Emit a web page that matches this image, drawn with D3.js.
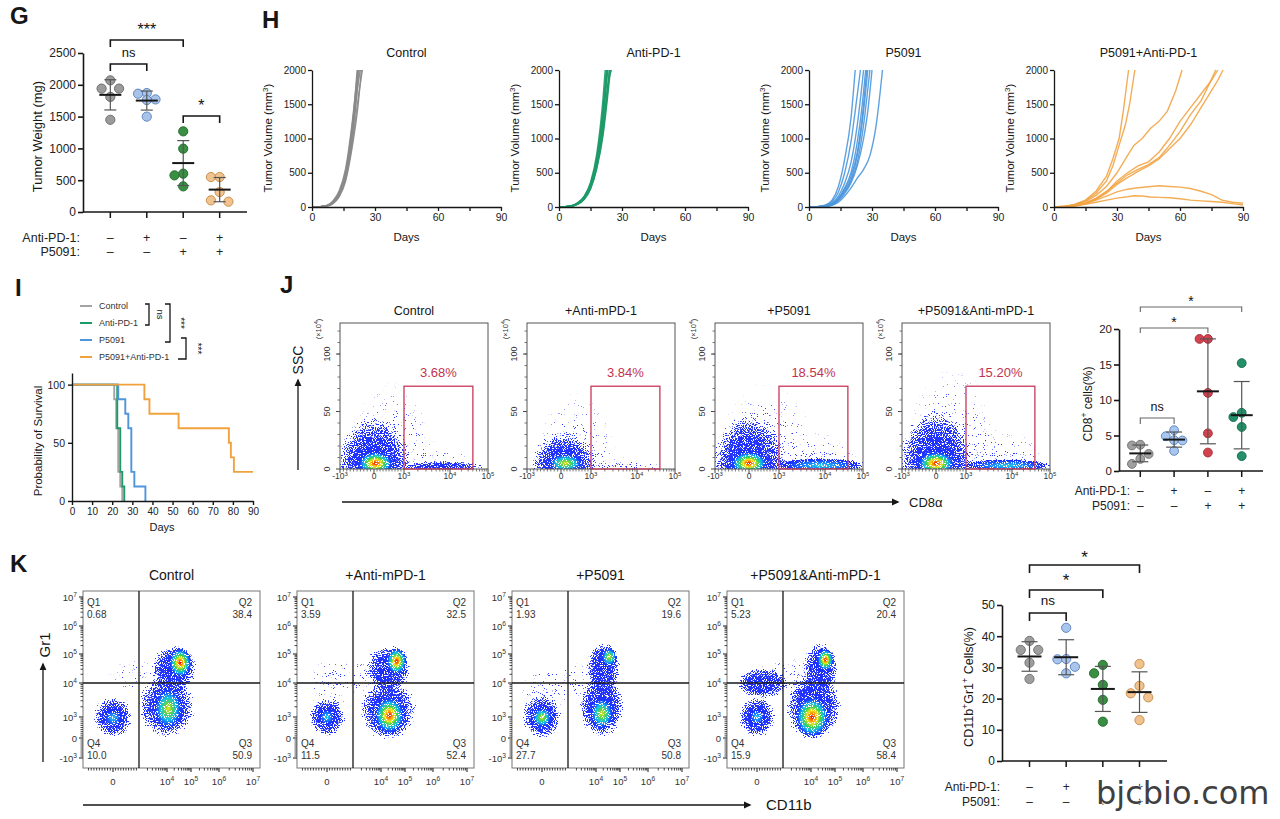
<!DOCTYPE html>
<html><head><meta charset="utf-8">
<script src="https://cdn.jsdelivr.net/npm/d3@7/dist/d3.min.js"></script>
<style>
html,body{margin:0;padding:0;background:#fff;}
svg{display:block;}
svg text{font-family:"Liberation Sans",Arial,Helvetica,sans-serif;}
</style></head><body>
<svg id="fig" width="1280" height="819" viewBox="0 0 1280 819"></svg>
<script>
// ================= DATA =================
const groupNames = ["Control","Anti-PD-1","P5091","P5091+Anti-PD-1"];
const antiPD1Row = ["–","+","–","+"];
const p5091Row   = ["–","–","+","+"];

// G : tumor weight (mg)
const weightTicks   = [0,500,1000,1500,2000,2500];
const weightControl = [2070,1940,1940,1810,1450];
const weightAntiPD1 = [1870,1860,1770,1760,1500];
const weightP5091   = [1268,996,603,576,403];
const weightCombo   = [550,550,314,162,183];
const weightCompare = [[0,2,"***"],[0,1,"ns"],[2,3,"*"]];

// H : individual tumor growth curves [day, volume mm3]
const volumeTicks = [0,500,1000,1500,2000];
const dayTicks    = [0,15,30,45,60,75,90];
const dayLabels   = [0,30,60,90];
const growthTitles = ["Control","Anti-PD-1","P5091","P5091+Anti-PD-1"];
const curvesControl = [
 [[0,0],[4,5],[7,20],[10,80],[13,220],[16,520],[19,1100],[21.5,2000]],
 [[0,0],[4,5],[7,15],[10,60],[13,180],[16,450],[19,1000],[22,2000]],
 [[0,0],[4,4],[7,18],[10,70],[13,200],[16,480],[19,1050],[22.5,2000]],
 [[0,0],[4,6],[7,22],[10,90],[13,240],[16,560],[19,1200],[21.8,2000]],
 [[0,0],[4,3],[7,12],[10,50],[13,150],[16,380],[19,850],[22,1500],[23.5,2000]],
 [[0,0],[4,4],[7,14],[10,55],[13,160],[16,400],[19,900],[22.5,1700],[24,2000]],
 [[0,0],[4,5],[7,17],[10,65],[13,190],[16,420],[19,950],[22,1800],[23,2000]],
 [[0,0],[4,6],[7,20],[10,75],[13,210],[16,500],[19,1150],[22,2000]]
];
const curvesAntiPD1 = [
 [[0,0],[3,4],[6,15],[9,50],[12,130],[15,300],[18,650],[21,1300],[23,2000]],
 [[0,0],[3,5],[6,18],[9,60],[12,150],[15,340],[18,720],[21,1450],[22.5,2000]],
 [[0,0],[3,3],[6,12],[9,45],[12,120],[15,280],[18,600],[21,1150],[23.5,1800],[24,2000]],
 [[0,0],[3,4],[6,14],[9,48],[12,125],[15,290],[18,620],[21,1200],[24,2000]],
 [[0,0],[3,6],[6,20],[9,65],[12,160],[15,360],[18,780],[21,1600],[22,2000]],
 [[0,0],[3,3],[6,10],[9,40],[12,110],[15,260],[18,560],[21,1050],[24,1850],[24.5,2000]],
 [[0,0],[3,5],[6,16],[9,55],[12,140],[15,320],[18,690],[21,1380],[23,2000]],
 [[0,0],[3,4],[6,13],[9,46],[12,118],[15,270],[18,580],[21,1100],[24,1900],[25,2000]],
 [[0,0],[3,5],[6,17],[9,58],[12,145],[15,330],[18,700],[21,1400],[22.8,2000]],
 [[0,0],[3,4],[6,15],[9,52],[12,135],[15,310],[18,660],[21,1320],[23.2,2000]]
];
const curvesP5091 = [
 [[0,0],[4,5],[8,30],[11,100],[14,300],[17,700],[20,1300],[22,2000]],
 [[0,0],[4,5],[8,25],[11,80],[14,220],[17,500],[20,950],[22,1400],[24.5,2000]],
 [[0,0],[4,4],[8,20],[11,60],[14,160],[17,350],[20,650],[23,1200],[26,2000]],
 [[0,0],[4,4],[8,15],[11,50],[14,130],[17,280],[20,500],[23,950],[25,1400],[27,2000]],
 [[0,0],[4,3],[8,15],[11,45],[14,120],[17,260],[20,450],[23,800],[26,1500],[27.5,2000]],
 [[0,0],[4,3],[8,12],[11,40],[14,110],[17,240],[20,400],[23,750],[26,1400],[28,2000]],
 [[0,0],[4,3],[8,12],[11,35],[14,100],[17,220],[20,380],[23,650],[26,1200],[29,2000]],
 [[0,0],[4,2],[8,10],[11,30],[14,90],[17,200],[20,350],[23,600],[26,1000],[28,1400],[30,2000]],
 [[0,0],[4,2],[8,8],[11,25],[14,70],[17,160],[20,280],[23,420],[26,550],[29,750],[32,1200],[35,2000]]
];
const curvesCombo = [
 [[0,0],[5,10],[10,40],[15,100],[20,230],[25,450],[28,700],[31,1000],[33,1400],[35.5,2000]],
 [[0,0],[5,10],[10,35],[15,90],[20,200],[25,380],[28,600],[31,900],[34,1200],[36,1500],[38.5,2000]],
 [[0,0],[5,8],[10,30],[15,80],[20,170],[25,300],[30,500],[35,750],[38,900],[42,1000],[46,1150],[50,1250],[54,1400],[58,1700],[61,2000]],
 [[0,0],[5,5],[10,25],[15,60],[20,130],[25,230],[30,350],[35,470],[40,550],[45,620],[50,720],[55,900],[60,1100],[65,1350],[70,1550],[74,1800],[77,2000]],
 [[0,0],[5,5],[10,20],[15,55],[20,120],[25,220],[30,380],[35,500],[40,600],[45,660],[50,800],[55,1000],[60,1250],[65,1450],[70,1650],[75,1850],[78,2000]],
 [[0,0],[5,5],[10,20],[15,50],[20,110],[25,200],[30,330],[35,430],[40,520],[45,600],[50,700],[55,850],[60,1000],[65,1200],[70,1450],[75,1700],[78,1850],[80.5,2000]],
 [[0,0],[5,5],[10,20],[15,50],[20,100],[25,160],[30,220],[35,260],[40,280],[45,295],[50,310],[55,300],[60,290],[65,270],[70,230],[75,180],[80,100],[85,70],[90,55]],
 [[0,0],[5,5],[10,15],[15,40],[20,70],[25,100],[30,130],[35,150],[38,165],[42,160],[46,145],[50,140],[55,135],[60,120],[65,100],[70,90],[75,80],[80,70],[85,50],[90,30]]
];

// I : Kaplan–Meier survival [day, % surviving]
const survivalTicksY = [0,50,100];
const survivalTicksX = [0,10,20,30,40,50,60,70,80,90];
const survControl = [[0,100],[21,87.5],[22,62.5],[23,25],[24,12.5],[25,0]];
const survAntiPD1 = [[0,100],[22.5,62.5],[24,25],[25,12.5],[26,0]];
const survP5091   = [[0,100],[23,87.5],[26.5,75],[28,62.5],[29.5,25],[31,12.5],[36.5,0],[36.5,0]];
const survCombo   = [[0,100],[36,87.5],[38.5,75],[53,62.5],[78,50],[79,37.5],[80.5,25],[90,25]];
const survCompare = [[0,1,"ns"],[0,2,"***"],[2,3,"***"]];

// J : flow cytometry (CD8α vs SSC), gate percentages
const jTitles   = ["Control","+Anti-mPD-1","+P5091","+P5091&Anti-mPD-1"];
const jPercents = ["3.68%","3.84%","18.54%","15.20%"];
const jGateX = [1e3, 4e4];      // CD8α gate bounds
const jGateY = [0, 72];         // SSC (x10^4) gate bounds
const jTicksX = [-1e3, 0, 1e3, 1e4, 1e5];
const jTicksY = [0, 50, 100];
// density populations: [CD8α (biexp index), SSC x10^4, spread x, spread y, density level 0..4]
const jPopControl = [[0.6,0,1.4,85,0],[0.0,0,1.15,46,1],[1.9,0,1.0,20,0],[1.85,2,1.0,5,1],[0.05,5,0.6,11,4]];
const jPopAnti    = [[0.5,0,1.3,75,0],[0.1,0,1.05,32,1],[1.8,0,0.9,12,0],[1.8,2,0.8,4,0],[0.15,5,0.6,9,3]];
const jPopP5091   = [[0.6,0,1.6,85,0],[0.0,0,1.15,48,1],[1.9,0,1.1,35,0],[1.9,3,1.2,7,2],[0.0,5,0.62,11,4]];
const jPopCombo   = [[0.5,0,1.5,100,0],[0.0,0,1.15,52,1],[1.9,0,1.1,38,0],[1.9,3,1.2,6,2],[0.0,5,0.62,11,4]];

// J : CD8+ cells (%)
const cd8Ticks   = [0,5,10,15,20];
const cd8Control = [3.7,3.6,2.4,1.0,1.7];
const cd8AntiPD1 = [5.75,4.34,4.9,4.3,2.83];
const cd8P5091   = [18.6,18.6,11.0,5.3,2.6];
const cd8Combo   = [15.2,8.2,7.6,6.2,2.1];
const cd8Compare = [[0,3,"*"],[0,2,"*"],[0,1,"ns"]];

// K : flow cytometry (CD11b vs Gr1)
const kTitles = ["Control","+Anti-mPD-1","+P5091","+P5091&Anti-mPD-1"];
const kQ1 = ["0.68","3.59","1.93","5.23"];
const kQ2 = ["38.4","32.5","19.6","20.4"];
const kQ3 = ["50.9","52.4","50.8","58.4"];
const kQ4 = ["10.0","11.5","27.7","15.9"];
const kGateX = 1e3, kGateY = 1e4;
const kTicksX = [0,1e4,1e5,1e6,1e7];
const kTicksY = [-1e3,0,1e3,1e4,1e5,1e6,1e7];
// [CD11b (biexp index), Gr1 (biexp index), spread x, spread y, density level 0..4]
const kPopControl = [[1.3,2.2,1.7,0.7,0],[2.3,2.5,0.9,0.8,1],[2.0,1.3,1.1,1.1,1],[0.0,1.0,0.75,0.75,1],[0.0,0.95,0.4,0.4,2],[2.05,1.25,0.6,0.75,3],[2.55,2.7,0.5,0.55,4]];
const kPopAnti    = [[0.1,1.9,0.9,1.0,0],[1.3,2.2,1.7,0.6,0],[2.3,2.5,0.9,0.8,1],[2.3,1.2,1.1,1.1,1],[0.0,1.0,0.7,0.7,1],[0.0,1.0,0.35,0.35,2],[2.35,1.05,0.65,0.7,4],[2.65,2.75,0.45,0.5,4]];
const kPopP5091   = [[0.0,1.6,0.9,1.1,0],[1.3,2.0,1.7,0.7,0],[2.3,2.5,0.7,0.9,1],[2.25,1.3,0.9,1.1,1],[0.0,1.0,0.75,0.8,1],[0.0,0.97,0.4,0.4,3],[2.25,1.1,0.5,0.6,3],[2.55,2.9,0.35,0.35,3]];
const kPopCombo   = [[1.2,2.2,1.7,0.7,0],[0.2,2.0,1.0,0.5,1],[2.4,2.5,0.7,0.9,1],[2.1,1.3,1.1,1.2,1],[0.0,1.0,0.7,0.75,1],[0.0,1.0,0.35,0.35,2],[2.05,1.0,0.7,0.8,4],[2.6,2.8,0.38,0.42,4]];

// K : CD11b+Gr1+ cells (%)
const mdscTicks   = [0,10,20,30,40,50];
const mdscControl = [38.5,35.6,35.6,31.5,26.3];
const mdscAntiPD1 = [42.7,32.6,32.7,30.2,28.1];
const mdscP5091   = [30.8,28.1,24.4,19.6,12.6];
const mdscCombo   = [31.1,24.1,21.7,20.4,13.1];
const mdscCompare = [[0,3,"*"],[0,2,"*"],[0,1,"ns"]];

// ================= DRAWING =================
const svg = d3.select("#fig");
const defs = svg.append("defs");
const INK = "#161616";

defs.append("marker").attr("id","arrow").attr("viewBox","0 0 10 10")
  .attr("refX",8).attr("refY",5).attr("markerWidth",6).attr("markerHeight",6)
  .attr("orient","auto").append("path").attr("d","M0,0.5L10,5L0,9.5Z").attr("fill",INK);

// density colour ramps
const levelNames = ["sparse","faint","cool","warm","hot"];
const gradSpecs = {
 sparse:[[0,"#2b3bff",0.24],[0.6,"#2b3bff",0.13],[1,"#2b3bff",0]],
 faint:[[0,"#1c2bf5",1],[0.55,"#2233ff",1],[0.8,"#2233ff",0.62],[1,"#2233ff",0]],
 cool:[[0,"#22d6e6",1],[0.4,"#1a78ff",1],[0.72,"#1a2cff",1],[1,"#1a2cff",0]],
 warm:[[0,"#f2e21e",1],[0.25,"#5fd443",1],[0.5,"#12c0e6",1],[0.75,"#1a44ff",1],[1,"#1a30ff",0]],
 hot:[[0,"#d80000",1],[0.15,"#ff7a00",1],[0.3,"#f4e41c",1],[0.45,"#45d444",1],[0.62,"#10bce8",1],[0.8,"#1a44ff",1],[1,"#1a30ff",0]]
};
Object.entries(gradSpecs).forEach(([k,stops])=>{
  const gr = defs.append("radialGradient").attr("id","g_"+k);
  stops.forEach(s=>gr.append("stop").attr("offset",s[0]).attr("stop-color",s[1]).attr("stop-opacity",s[2]));
});
// speckle filter: density (alpha) -> probability of a dot
const flt = defs.append("filter").attr("id","grain").attr("filterUnits","userSpaceOnUse")
  .attr("x",0).attr("y",0).attr("width",1280).attr("height",819).attr("color-interpolation-filters","sRGB");
flt.append("feTurbulence").attr("type","fractalNoise").attr("baseFrequency",0.9).attr("numOctaves",1).attr("seed",7).attr("result","t");
flt.append("feColorMatrix").attr("in","t").attr("type","matrix").attr("values","0 0 0 0 0  0 0 0 0 0  0 0 0 0 0  1 0 0 0 0").attr("result","n0");
const nc = flt.append("feComponentTransfer").attr("in","n0").attr("result","n");
nc.append("feFuncA").attr("type","linear").attr("slope",3.0).attr("intercept",-0.85);
flt.append("feComposite").attr("in","SourceAlpha").attr("in2","n").attr("operator","arithmetic")
  .attr("k1",0).attr("k2",1.0).attr("k3",-1).attr("k4",-0.03).attr("result","d");
const ct = flt.append("feComponentTransfer").attr("in","d").attr("result","m");
ct.append("feFuncA").attr("type","linear").attr("slope",10).attr("intercept",0);
const ct2 = flt.append("feComponentTransfer").attr("in","SourceGraphic").attr("result","o");
ct2.append("feFuncA").attr("type","linear").attr("slope",0).attr("intercept",1);
flt.append("feComposite").attr("in","o").attr("in2","m").attr("operator","in");

function txt(g,x,y,s,o={}){
  const t = g.append("text").attr("x",x).attr("y",y).text(s)
    .attr("font-size",o.size||12).attr("fill",o.fill||INK).attr("text-anchor",o.anchor||"start");
  if(o.weight) t.attr("font-weight",o.weight);
  return t;
}
function rtxt(g,x,y,parts,o={}){ // rotated text, centered
  const fs=o.size||12;
  const t = g.append("text").attr("transform",`translate(${x},${y}) rotate(${o.rot===undefined?-90:o.rot})`)
    .attr("text-anchor","middle").attr("font-size",fs).attr("fill",o.fill||INK);
  supParts(t,parts,fs);
  return t;
}
function supParts(t,parts,fs){
  let up=false;
  parts.forEach(p=>{
    const ts=t.append("tspan").text(p[0]);
    if(p[1]==="sup"){ ts.attr("dy",-fs*0.38).attr("font-size",fs*0.7); up=true; }
    else if(up){ ts.attr("dy",fs*0.38); up=false; }
  });
}
function powParts(v){
  if(v===0) return [["0"]];
  const e=Math.round(Math.log10(Math.abs(v)));
  return [[(v<0?"-":"")+"10"],[String(e),"sup"]];
}
function styleAxis(a,fs,w){
  a.attr("font-family",null);
  a.select(".domain").attr("stroke",INK).attr("stroke-width",w||1.5);
  a.selectAll(".tick line").attr("stroke",INK).attr("stroke-width",w||1.4);
  a.selectAll(".tick text").attr("font-size",fs).attr("fill","#222");
}
const fmt = d3.format("d");
// biexponential index
function bi(v){ if(v>=1e3) return 1+Math.log10(v/1e3); if(v<=-1e3) return -(1+Math.log10(-v/1e3)); return v/1e3; }

// ---------- panel letters ----------
[["G",10,24],["H",262,28],["I",15,296],["J",280,293],["K",10,572]].forEach(d=>txt(svg,d[1],d[2],d[0],{size:24,weight:"bold"}));

// ---------- dot plot (G, J right, K right) ----------
function swarm(vals,y,r){
  const idx=vals.map((v,i)=>i).sort((a,b)=>vals[b]-vals[a]);
  const placed=[],off=[];
  const cands=[0,-1,1];
  idx.forEach(i=>{
    const py=y(vals[i]); let best=null,bestD=-1;
    for(const c of cands){
      const px=c*r*1.9;
      const md=placed.length?d3.min(placed,q=>Math.hypot(q[0]-px,q[1]-py)):1e9;
      if(md>=r*2.1){best=px;break;}
      if(md>bestD){bestD=md;best=px;}
    }
    off[i]=best; placed.push([best,py]);
  });
  return off;
}
function dotPlot(c){
  const g=svg.append("g");
  const x=d3.scalePoint().domain(d3.range(c.values.length)).range([c.x0,c.x1]).padding(c.pad);
  const y=d3.scaleLinear().domain([0,c.ymax]).range([c.yb,c.yt]);
  const ya=g.append("g").attr("transform",`translate(${c.x0},0)`)
    .call(d3.axisLeft(y).tickValues(c.ticks).tickFormat(fmt).tickSize(5).tickSizeOuter(0).tickPadding(2));
  styleAxis(ya,c.fs,1.6);
  g.append("line").attr("x1",c.x0).attr("x2",c.x1).attr("y1",c.yb).attr("y2",c.yb).attr("stroke",INK).attr("stroke-width",1.6);
  c.values.forEach((v,i)=>g.append("line").attr("x1",x(i)).attr("x2",x(i)).attr("y1",c.yb).attr("y2",c.yb+6).attr("stroke",INK).attr("stroke-width",1.5));
  c.values.forEach((vals,i)=>{
    const off=swarm(vals,y,c.r);
    vals.forEach((v,j)=>g.append("circle").attr("cx",x(i)+off[j]).attr("cy",y(v)).attr("r",c.r)
      .attr("fill",c.fills[i]).attr("stroke",c.strokes[i]).attr("stroke-width",1));
    const m=d3.mean(vals), sd=d3.deviation(vals);
    const eb=g.append("g").attr("stroke","#555").attr("stroke-width",1.2);
    eb.append("line").attr("x1",x(i)).attr("x2",x(i)).attr("y1",y(m-sd)).attr("y2",y(m+sd));
    [m-sd,m+sd].forEach(e=>eb.append("line").attr("x1",x(i)-c.capW/2).attr("x2",x(i)+c.capW/2).attr("y1",y(e)).attr("y2",y(e)));
    g.append("line").attr("x1",x(i)-c.meanW/2).attr("x2",x(i)+c.meanW/2).attr("y1",y(m)).attr("y2",y(m)).attr("stroke",INK).attr("stroke-width",2);
  });
  [[ "Anti-PD-1:",antiPD1Row],["P5091:",p5091Row]].forEach((r,k)=>{
    txt(g,c.rowLabX,c.rowY[k],r[0],{size:c.rowFs,anchor:"end",fill:"#222"});
    r[1].forEach((s,i)=>txt(g,x(i),c.rowY[k],s,{size:c.rowFs,anchor:"middle",fill:"#222"}));
  });
  rtxt(g,c.titleX,(c.yb+c.yt)/2+4,c.title,{size:c.titleFs});
  c.compare.forEach((cmp,k)=>{
    const b=c.brackets[k], xa=x(cmp[0]), xb=x(cmp[1]);
    g.append("path").attr("d",`M${xa},${b.y+b.h}V${b.y}H${xb}V${b.y+b.h}`).attr("fill","none")
      .attr("stroke",c.bStroke).attr("stroke-width",c.bw);
    txt(g,(xa+xb)/2,b.ty,cmp[2],{size:b.fs,anchor:"middle",fill:"#111"});
  });
}

dotPlot({x0:83,x1:247,pad:0.75,yb:212,yt:53,ymax:2500,ticks:weightTicks,
  values:[weightControl,weightAntiPD1,weightP5091,weightCombo],
  fills:["#9b9b9b","#a7c3ea","#3b8f45","#f1c38e"],strokes:["#6e6e6e","#5f86c0","#24702f","#c9904f"],
  r:4.6,fs:12,capW:12,meanW:22,title:[["Tumor Weight (mg)"]],titleFs:13,titleX:42,
  rowY:[242,256],rowLabX:80,rowFs:12.5,compare:weightCompare,
  brackets:[{y:40,h:7,ty:35,fs:16},{y:64,h:7,ty:57,fs:13},{y:116,h:7,ty:111,fs:16}],bStroke:INK,bw:1.6});

// ---------- H growth curves ----------
const hLeft=[312,559,809,1054];
const hColors=["#8a8a8a","#1d9a68","#4d97dd","#f2a444"];
[curvesControl,curvesAntiPD1,curvesP5091,curvesCombo].forEach((curves,i)=>{
  const L=hLeft[i], g=svg.append("g");
  const xs=d3.scaleLinear().domain([0,90]).range([L,L+189]);
  const ys=d3.scaleLinear().domain([0,2000]).range([207,70]);
  const line=d3.line().x(d=>xs(d[0])).y(d=>ys(d[1])).curve(i===3?d3.curveLinear:d3.curveMonotoneX);
  curves.forEach(cv=>g.append("path").attr("d",line(cv)).attr("fill","none").attr("stroke",hColors[i])
    .attr("stroke-width",1.4).attr("stroke-opacity",0.9));
  const ya=g.append("g").attr("transform",`translate(${L},0)`).call(d3.axisLeft(ys).tickValues(volumeTicks).tickFormat(fmt).tickSize(4).tickSizeOuter(0).tickPadding(2));
  styleAxis(ya,10,1.3);
  const xa=g.append("g").attr("transform",`translate(0,207)`).call(d3.axisBottom(xs).tickValues(dayTicks)
    .tickFormat(d=>dayLabels.includes(d)?d:"").tickSize(4).tickSizeOuter(0).tickPadding(3));
  styleAxis(xa,10.5,1.3);
  txt(g,L+94.5,57,growthTitles[i],{size:12.5,anchor:"middle"});
  txt(g,L+94.5,241,"Days",{size:11.5,anchor:"middle"});
  rtxt(g,L-40,138,[["Tumor Volume (mm"],["3","sup"],[")"]],{size:11.5});
});

// ---------- I survival ----------
(function(){
  const g=svg.append("g");
  const xs=d3.scaleLinear().domain([0,90]).range([72,253]);
  const ys=d3.scaleLinear().domain([0,110]).range([501,373]);
  const cols=["#a3a3a3","#1d9a68","#4f95db","#f0a23e"];
  const line=d3.line().x(d=>xs(d[0])).y(d=>ys(d[1])).curve(d3.curveStepAfter);
  [survControl,survAntiPD1,survP5091,survCombo].forEach((s,i)=>{
    g.append("path").attr("d",line(s)).attr("fill","none").attr("stroke",cols[i]).attr("stroke-width",1.9);
  });
  const ya=g.append("g").attr("transform","translate(72,0)").call(d3.axisLeft(ys).tickValues(survivalTicksY).tickSize(4).tickSizeOuter(0).tickPadding(3));
  styleAxis(ya,10.5,1.4);
  const xa=g.append("g").attr("transform","translate(0,501)").call(d3.axisBottom(xs).tickValues(survivalTicksX).tickSize(4).tickSizeOuter(0).tickPadding(3));
  styleAxis(xa,10,1.4);
  txt(g,162,531,"Days",{size:11,anchor:"middle"});
  rtxt(g,42,441,[["Probability of Survival"]],{size:11.5});
  const ly=[306,323,340,357];
  groupNames.forEach((n,i)=>{
    g.append("line").attr("x1",80).attr("x2",92).attr("y1",ly[i]).attr("y2",ly[i]).attr("stroke",cols[i]).attr("stroke-width",2);
    txt(g,99,ly[i]+3.3,n,{size:9,fill:"#333"});
  });
  const br=[{x:149,arm0:145,arm1:145,tx:157},{x:170,arm0:165,arm1:165,tx:177},{x:186,arm0:181,arm1:178,tx:194}];
  survCompare.forEach((c,k)=>{
    const b=br[k], ya0=ly[c[0]]-2, ya1=ly[c[1]]+2;
    g.append("path").attr("d",`M${b.arm0},${ya0}H${b.x}V${ya1}H${b.arm1}`).attr("fill","none").attr("stroke",INK).attr("stroke-width",1.3);
    rtxt(g,b.tx,(ya0+ya1)/2,[[c[2]]],{size:c[2]==="ns"?9.5:10,rot:90});
  });
})();

// ---------- flow helpers ----------
function drawPops(id,L,T,Wd,Ht,xs,ys,pops){
  defs.append("clipPath").attr("id","clip"+id).append("rect").attr("x",L).attr("y",T).attr("width",Wd).attr("height",Ht);
  const g=svg.append("g").attr("clip-path",`url(#clip${id})`).append("g").attr("filter","url(#grain)");
  pops.forEach(p=>{
    const [cx,cy,rx,ry,lv]=p;
    g.append("ellipse").attr("cx",xs(cx)).attr("cy",ys(cy))
      .attr("rx",Math.abs(xs(cx+rx)-xs(cx-rx))/2).attr("ry",Math.abs(ys(cy-ry)-ys(cy+ry))/2)
      .attr("fill",`url(#g_${levelNames[lv]})`);
  });
}

// ---------- J flow ----------
const jLeft=[340,527,715,902];
[jPopControl,jPopAnti,jPopP5091,jPopCombo].forEach((pops,i)=>{
  const L=jLeft[i],T=323,Wd=148,Ht=146,B=T+Ht;
  const xsI=d3.scaleLinear().domain([-1,0,1,2,3]).range([L,L+34,L+64,L+110,L+148]);
  const ys=d3.scaleLinear().domain([0,127]).range([B,T]);
  drawPops("j"+i,L,T,Wd,Ht,xsI,ys,pops);
  const g=svg.append("g");
  g.append("rect").attr("x",L).attr("y",T).attr("width",Wd).attr("height",Ht).attr("fill","none").attr("stroke","#555").attr("stroke-width",1);
  const gx0=xsI(bi(jGateX[0])),gx1=xsI(bi(jGateX[1])),gy0=ys(jGateY[0]),gy1=ys(jGateY[1]);
  g.append("rect").attr("x",gx0).attr("y",gy1).attr("width",gx1-gx0).attr("height",gy0-gy1)
    .attr("fill","none").attr("stroke","#c8385a").attr("stroke-width",1.3);
  txt(g,(gx0+gx1)/2,gy1-9,jPercents[i],{size:13,anchor:"middle",fill:"#c23350"});
  txt(g,L+Wd/2,315,jTitles[i],{size:12.5,anchor:"middle"});
  jTicksX.forEach(v=>{
    const px=xsI(bi(v));
    g.append("line").attr("x1",px).attr("x2",px).attr("y1",B).attr("y2",B+4).attr("stroke","#444");
    const t=g.append("text").attr("x",px).attr("y",B+10).attr("text-anchor","middle").attr("font-size",8.5).attr("fill","#333");
    supParts(t,powParts(v),8.5);
  });
  const minorX=[];
  for(let k=-9;k<=9;k++) if(k!==0) minorX.push(k/10);
  [1e3,1e4].forEach(b=>{for(let m=2;m<=9;m++) minorX.push(bi(m*b));});
  minorX.forEach(f=>g.append("line").attr("x1",xsI(f)).attr("x2",xsI(f)).attr("y1",B).attr("y2",B+2.5).attr("stroke","#555").attr("stroke-width",0.8));
  jTicksY.forEach(v=>{
    g.append("line").attr("x1",L-4).attr("x2",L).attr("y1",ys(v)).attr("y2",ys(v)).attr("stroke","#444");
    rtxt(g,L-10,ys(v),[[String(v)]],{size:9,fill:"#333"});
  });
  for(let v=10;v<=120;v+=10) g.append("line").attr("x1",L-2.5).attr("x2",L).attr("y1",ys(v)).attr("y2",ys(v)).attr("stroke","#555").attr("stroke-width",0.8);
  rtxt(g,L-19,T+6,[["(×10"],["4","sup"],[")"]],{size:7.5,fill:"#333"});
});
(function(){
  const g=svg.append("g");
  g.append("line").attr("x1",298).attr("x2",298).attr("y1",470).attr("y2",380).attr("stroke",INK).attr("stroke-width",1.3).attr("marker-end","url(#arrow)");
  rtxt(g,303,360,[["SSC"]],{size:14});
  g.append("line").attr("x1",342).attr("x2",898).attr("y1",502).attr("y2",502).attr("stroke",INK).attr("stroke-width",1.3).attr("marker-end","url(#arrow)");
  txt(g,909,507,"CD8α",{size:13});
})();

// J right : CD8+ %
dotPlot({x0:1119,x1:1263,pad:0.63,yb:471,yt:329,ymax:20,ticks:cd8Ticks,
  values:[cd8Control,cd8AntiPD1,cd8P5091,cd8Combo],
  fills:["#a0a0a0","#a8c6ee","#d2434f","#24906a"],strokes:["#777","#5f8ac8","#a8303a","#1a6e50"],
  r:4.4,fs:11.5,capW:16,meanW:22,title:[["CD8"],["+","sup"],[" cells(%)"]],titleFs:12,titleX:1092,
  rowY:[495,510],rowLabX:1130,rowFs:12,compare:cd8Compare,
  brackets:[{y:307,h:5,ty:306,fs:14},{y:328,h:5,ty:327,fs:14},{y:418,h:6,ty:411,fs:12.5}],bStroke:"#666",bw:1.1});

// ---------- K flow ----------
const kLeft=[83,297,512,727];
[kPopControl,kPopAnti,kPopP5091,kPopCombo].forEach((pops,i)=>{
  const L=kLeft[i],T=591,S=177,B=T+S,R=L+S;
  const xs=d3.scaleLinear().domain([-1.1,0,1,2,3,4,5,5.25]).range([0,30,56,84,108,136,170,177].map(v=>L+v));
  const ys=d3.scaleLinear().domain([-1.5,-1,0,1,2,3,4,5,5.2]).range([177,167,147,126,92,63,35,6,0].map(v=>T+v));
  drawPops("k"+i,L,T,S,S,xs,ys,pops);
  const g=svg.append("g");
  g.append("rect").attr("x",L).attr("y",T).attr("width",S).attr("height",S).attr("fill","none").attr("stroke","#777").attr("stroke-width",1);
  const gx=xs(bi(kGateX)), gy=ys(bi(kGateY));
  g.append("line").attr("x1",gx).attr("x2",gx).attr("y1",T).attr("y2",B).attr("stroke",INK).attr("stroke-width",1.3);
  g.append("line").attr("x1",L).attr("x2",R).attr("y1",gy).attr("y2",gy).attr("stroke",INK).attr("stroke-width",1.3);
  txt(g,L+S/2,580,kTitles[i],{size:14,anchor:"middle"});
  const qs=10, qc="#333";
  txt(g,L+4,T+15,"Q1",{size:qs,fill:qc}); txt(g,L+4,T+27,kQ1[i],{size:qs,fill:qc});
  txt(g,R-8,T+15,"Q2",{size:qs,fill:qc,anchor:"end"}); txt(g,R-8,T+27,kQ2[i],{size:qs,fill:qc,anchor:"end"});
  txt(g,L+4,T+156,"Q4",{size:qs,fill:qc}); txt(g,L+4,T+168,kQ4[i],{size:qs,fill:qc});
  txt(g,R-8,T+156,"Q3",{size:qs,fill:qc,anchor:"end"}); txt(g,R-8,T+168,kQ3[i],{size:qs,fill:qc,anchor:"end"});
  kTicksX.forEach(v=>{
    const px=xs(bi(v));
    g.append("line").attr("x1",px).attr("x2",px).attr("y1",B).attr("y2",B+4).attr("stroke",INK);
    const t=g.append("text").attr("x",px).attr("y",B+17).attr("text-anchor","middle").attr("font-size",9.5).attr("fill","#333");
    supParts(t,powParts(v),9.5);
  });
  kTicksY.forEach(v=>{
    const py=ys(bi(v));
    g.append("line").attr("x1",L-4).attr("x2",L).attr("y1",py).attr("y2",py).attr("stroke",INK);
    const t=g.append("text").attr("x",L-6).attr("y",py+3.5).attr("text-anchor","end").attr("font-size",9.5).attr("fill","#333");
    supParts(t,powParts(v),9.5);
  });
  const minor=[];
  for(let k=-9;k<=9;k++) if(k!==0) minor.push(k/10);
  [1e3,1e4,1e5,1e6].forEach(b=>{for(let m=2;m<=9;m++) minor.push(bi(m*b));});
  minor.forEach(f=>{
    if(f>-1.1) g.append("line").attr("x1",xs(f)).attr("x2",xs(f)).attr("y1",B).attr("y2",B+2.5).attr("stroke",INK).attr("stroke-width",0.8);
    g.append("line").attr("x1",L-2.5).attr("x2",L).attr("y1",ys(f)).attr("y2",ys(f)).attr("stroke",INK).attr("stroke-width",0.8);
  });
});
(function(){
  const g=svg.append("g");
  g.append("line").attr("x1",43).attr("x2",43).attr("y1",762).attr("y2",664).attr("stroke",INK).attr("stroke-width",1.3).attr("marker-end","url(#arrow)");
  rtxt(g,50,645,[["Gr1"]],{size:15});
  g.append("line").attr("x1",83).attr("x2",750).attr("y1",805).attr("y2",805).attr("stroke",INK).attr("stroke-width",1.3).attr("marker-end","url(#arrow)");
  txt(g,766,810,"CD11b",{size:15});
})();

// K right : CD11b+Gr1+ %
dotPlot({x0:1002,x1:1167,pad:0.75,yb:761,yt:605,ymax:50,ticks:mdscTicks,
  values:[mdscControl,mdscAntiPD1,mdscP5091,mdscCombo],
  fills:["#9e9e9e","#a9c5ec","#3a8e44","#f0c290"],strokes:["#777","#6088c2","#276f30","#c99050"],
  r:4.6,fs:12,capW:16,meanW:24,title:[["CD11b"],["+","sup"],["Gr1"],["+","sup"],[" Cells(%)"]],titleFs:12.5,titleX:973,
  rowY:[791,806],rowLabX:1000,rowFs:12,compare:mdscCompare,
  brackets:[{y:565,h:8,ty:563,fs:17},{y:590,h:8,ty:586,fs:17},{y:613,h:8,ty:605,fs:13.5}],bStroke:INK,bw:1.6});

// watermark
svg.append("text").attr("x",1096).attr("y",804).text("bjcbio.com")
  .attr("style","font-family:'DejaVu Sans',sans-serif;font-size:32px;fill:#3f3f3f;stroke:#ffffff;stroke-width:1.2px;paint-order:stroke;");
</script>
</body></html>
